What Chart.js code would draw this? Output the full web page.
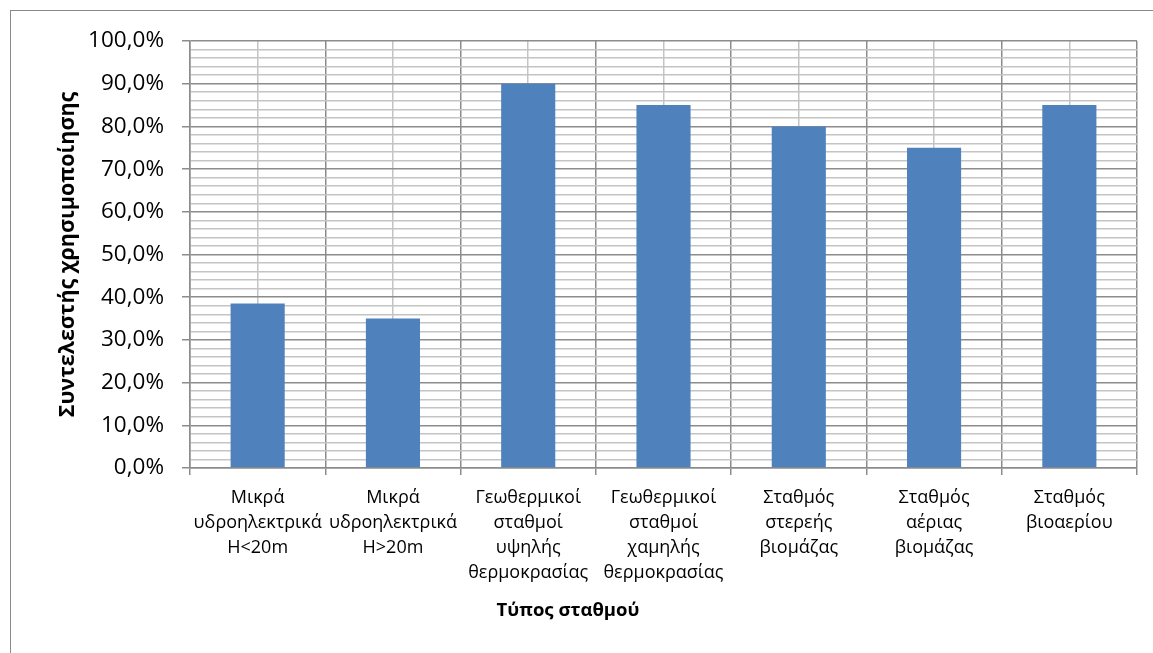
<!DOCTYPE html>
<html>
<head>
<meta charset="utf-8">
<script src="https://cdn.jsdelivr.net/npm/chart.js@4/dist/chart.umd.min.js"></script>
<style>
  html, body { margin: 0; padding: 0; background: #fff; overflow: hidden; }
  #wrap { position: relative; width: 1153px; height: 653px; }
  #frame { position: absolute; left: 10px; top: 10px; width: 1200px; height: 700px;
           border: 1px solid #8a8a8a; box-sizing: border-box; }
  #chart { position: absolute; left: 0; top: 0; }
</style>
</head>
<body>
<div id="wrap">
  <div id="frame"></div>
  <canvas id="chart" width="1153" height="653"></canvas>
</div>
<script>
// Station types (multi-line category labels)
const categories = [
  ['Μικρά', 'υδροηλεκτρικά', 'H<20m'],
  ['Μικρά', 'υδροηλεκτρικά', 'H>20m'],
  ['Γεωθερμικοί', 'σταθμοί', 'υψηλής', 'θερμοκρασίας'],
  ['Γεωθερμικοί', 'σταθμοί', 'χαμηλής', 'θερμοκρασίας'],
  ['Σταθμός', 'στερεής', 'βιομάζας'],
  ['Σταθμός', 'αέριας', 'βιομάζας'],
  ['Σταθμός', 'βιοαερίου']
];
// Capacity factor, percent
const capacityFactor = [38.5, 35, 90, 85, 80, 75, 85];
// Axis range and tick spacing (percent)
const yMin = 0;
const yMax = 100;
const yMinorStep = 2;
const yMajorStep = 10;

const yTitle = 'Συντελεστής χρησιμοποίησης';
const xTitle = 'Τύπος σταθμού';

const MAJOR = '#8c8c8c';
const MINOR = '#c4c4c4';
const BAR = '#4f81bd';

const isMajor = v => Math.abs(v % yMajorStep) < 1e-9;
const fmtPct = v => v.toFixed(1).replace('.', ',') + '%';

// Bottom axis title, centred under the chart frame
const xTitlePlugin = {
  id: 'xTitle',
  afterDraw(chart) {
    const ctx = chart.ctx;
    ctx.save();
    ctx.font = 'bold 18.5px "Open Sans"';
    ctx.fillStyle = '#000';
    ctx.textAlign = 'center';
    ctx.textBaseline = 'middle';
    ctx.fillText(xTitle, 568, 611);
    ctx.restore();
  }
};

new Chart(document.getElementById('chart'), {
  type: 'bar',
  data: {
    labels: categories,
    datasets: [{
      data: capacityFactor,
      backgroundColor: BAR,
      borderWidth: 0,
      barPercentage: 0.4,
      categoryPercentage: 1.0
    }]
  },
  options: {
    responsive: false,
    devicePixelRatio: 1,
    animation: false,
    layout: { padding: { left: 47, top: 41, right: 16, bottom: 0 } },
    plugins: { legend: { display: false }, tooltip: { enabled: false }, title: { display: false } },
    scales: {
      x: {
        type: 'category',
        position: 'bottom',
        offset: true,
        grid: { offset: true, color: MAJOR, lineWidth: 1.5, tickColor: MAJOR, tickLength: 7, drawTicks: true },
        border: { display: true, color: MAJOR, width: 1.5 },
        ticks: {
          color: '#000',
          font: { family: 'Open Sans', size: 18, lineHeight: 1.39 },
          maxRotation: 0, minRotation: 0, autoSkip: false, padding: 10
        },
        afterFit(scale) { scale.height = 185; }
      },
      xc: {
        type: 'category',
        labels: categories,
        position: 'bottom',
        offset: true,
        grid: { offset: false, color: MINOR, lineWidth: 1.5, drawTicks: false },
        border: { display: false },
        ticks: { display: false },
        afterFit(scale) { scale.height = 0; }
      },
      y: {
        type: 'linear',
        min: yMin,
        max: yMax,
        grid: {
          color: ctx => isMajor(ctx.tick.value) ? MAJOR : MINOR,
          lineWidth: 1.5,
          tickColor: ctx => isMajor(ctx.tick.value) ? MAJOR : 'rgba(0,0,0,0)',
          tickLength: 8
        },
        border: { display: true, color: MAJOR, width: 1.5 },
        ticks: {
          stepSize: yMinorStep,
          autoSkip: false,
          color: '#000',
          padding: 18,
          font: { family: 'Open Sans', size: 22.5 },
          callback: v => isMajor(v) ? fmtPct(v) : ''
        },
        title: {
          display: true,
          text: yTitle,
          color: '#000',
          font: { family: 'Open Sans', size: 21.5, weight: 'bold', lineHeight: 1.2 },
          padding: { top: 8, bottom: 0 }
        },
        afterFit(scale) { scale.width = 143; }
      }
    }
  },
  plugins: [xTitlePlugin]
});
</script>
</body>
</html>
